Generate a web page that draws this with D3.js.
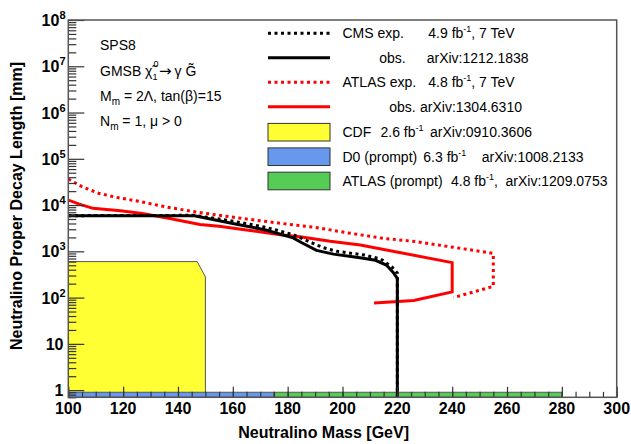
<!DOCTYPE html>
<html>
<head>
<meta charset="utf-8">
<script src="https://cdn.jsdelivr.net/npm/d3@7"></script>
<style>
  html, body { margin: 0; padding: 0; background: #fff; }
  svg { display: block; }
  text { font-family: "Liberation Sans", Arial, Helvetica, sans-serif; fill: #000; }
</style>
</head>
<body>
<svg id="chart" width="631" height="444"></svg>
<script>
// ---------------- data ----------------
const massTicks = [100, 120, 140, 160, 180, 200, 220, 240, 260, 280, 300];
const massTickLabels = ["100", "120", "140", "160", "180", "200", "220", "240", "260", "280", "300"];
const decayTicks = [1, 10, 1e2, 1e3, 1e4, 1e5, 1e6, 1e7, 1e8];
const decayTickLabels = ["1", "10", "10^2", "10^3", "10^4", "10^5", "10^6", "10^7", "10^8"];

// CMS expected (dotted black)
const cmsExpMass = [100, 146, 160, 172, 182, 188, 193, 198, 208, 214, 218, 220, 220];
const cmsExpLen  = [5900, 6000, 4500, 3300, 2300, 1600, 1200, 1000, 830, 680, 460, 340, 0.7];
// CMS observed (solid black)
const cmsObsMass = [100, 146, 160, 172, 182, 185, 190.5, 196.7, 207, 212, 216, 218.5, 220, 220];
const cmsObsLen  = [5900, 5900, 4000, 2900, 1950, 1550, 1050, 870, 720, 640, 505, 350, 260, 0.7];
// ATLAS expected (dotted red)
const atlasExpMass = [100, 105, 111, 118, 126, 136, 146, 155, 165, 178, 190, 202, 215, 227, 239, 251, 255, 255, 240.5];
const atlasExpLen  = [36500, 25000, 18000, 14500, 12000, 9000, 7200, 6000, 5000, 4000, 3300, 2500, 1900, 1620, 1260, 980, 900, 175, 100];
// ATLAS observed (solid red)
const atlasObsMass = [100, 104, 109, 119, 127, 137, 148, 155, 165, 178, 184.5, 195.5, 206.5, 240, 240, 226, 211.5];
const atlasObsLen  = [12800, 10500, 8500, 7500, 6600, 5150, 3800, 3500, 2900, 2250, 2060, 1650, 1370, 570, 133, 87, 76];
// CDF excluded region (yellow)
const cdfMass = [100, 100, 147, 150, 150];
const cdfLen  = [0.7, 600, 600, 280, 0.7];
// prompt exclusions (bands along the bottom)
const d0Mass = [100, 175];
const atlasPromptMass = [175, 280];
const promptLen = [0.7, 0.9];

// ---------------- layout ----------------
const svg = d3.select("#chart");
const pLeft = 68.3, pRight = 616.7, pTop = 20, pBottom = 397.3;
const x = d3.scaleLinear().domain([100, 300]).range([pLeft, pRight]);
const y = d3.scaleLog().domain([0.7, 1e8]).range([pBottom, pTop]);

const YELLOW = "#ffff33", BLUE = "#6699ee", GREEN = "#55cc55";

svg.append("defs").append("clipPath").attr("id", "clip")
  .append("rect").attr("x", pLeft).attr("y", pTop).attr("width", pRight - pLeft).attr("height", pBottom - pTop);

const plot = svg.append("g").attr("clip-path", "url(#clip)");

const line = d3.line().x(d => x(d[0])).y(d => y(d[1]));
const zip = (a, b) => a.map((v, i) => [v, b[i]]);

// CDF yellow polygon
plot.append("path")
  .attr("d", line(zip(cdfMass, cdfLen)) + "Z")
  .attr("fill", YELLOW).attr("stroke", "#555").attr("stroke-width", 1);

// prompt bands
[[d0Mass, BLUE], [atlasPromptMass, GREEN]].forEach(([m, c]) => {
  plot.append("rect")
    .attr("x", x(m[0])).attr("width", x(m[1]) - x(m[0]))
    .attr("y", y(promptLen[1])).attr("height", y(promptLen[0]) - y(promptLen[1]))
    .attr("fill", c).attr("stroke", "#555").attr("stroke-width", 1);
});

// curves
const DOT = "3,3.5";
const curves = [
  {m: atlasExpMass, v: atlasExpLen, c: "#ff0000", dash: DOT},
  {m: atlasObsMass, v: atlasObsLen, c: "#ff0000", dash: null},
  {m: cmsExpMass, v: cmsExpLen, c: "#000", dash: DOT},
  {m: cmsObsMass, v: cmsObsLen, c: "#000", dash: null},
];
curves.forEach(cv => {
  plot.append("path")
    .attr("d", line(zip(cv.m, cv.v)))
    .attr("fill", "none").attr("stroke", cv.c).attr("stroke-width", 3)
    .attr("stroke-dasharray", cv.dash);
});

// ---------------- axes ----------------
const TICK = "#333";
const xMinor = d3.range(100, 301, 5);
const gxMinor = svg.append("g").attr("transform", `translate(0,${pBottom})`)
  .call(d3.axisBottom(x).tickValues(xMinor).tickSize(-5.5).tickFormat(""));
const gxMajor = svg.append("g").attr("transform", `translate(0,${pBottom})`)
  .call(d3.axisBottom(x).tickValues(massTicks).tickSize(-10.5).tickFormat(""));
const yMinor = [];
for (let n = -1; n <= 7; n++) for (let k = 2; k <= 9; k++) {
  const v = k * Math.pow(10, n);
  if (v >= 0.7 && v <= 1e8) yMinor.push(v);
}
const gyMinor = svg.append("g").attr("transform", `translate(${pLeft},0)`)
  .call(d3.axisLeft(y).tickValues(yMinor).tickSize(-8).tickFormat(""));
const gyMajor = svg.append("g").attr("transform", `translate(${pLeft},0)`)
  .call(d3.axisLeft(y).tickValues(decayTicks).tickSize(-16).tickFormat(""));
[gxMinor, gxMajor, gyMinor, gyMajor].forEach(g => {
  g.select(".domain").remove();
  g.selectAll(".tick line").attr("stroke", TICK).attr("stroke-width", 1.2);
});

// frame
svg.append("rect")
  .attr("x", pLeft).attr("y", pTop).attr("width", pRight - pLeft).attr("height", pBottom - pTop)
  .attr("fill", "none").attr("stroke", "#555").attr("stroke-width", 1.5);

// x tick labels
svg.append("g").selectAll("text").data(massTicks).join("text")
  .attr("x", d => x(d)).attr("y", 413.5)
  .attr("text-anchor", "middle")
  .style("font-size", "16px").style("font-weight", "bold")
  .text((d, i) => massTickLabels[i]);

// y tick labels
decayTicks.forEach((v, i) => {
  const parts = decayTickLabels[i].split("^");
  const t = svg.append("text")
    .attr("y", y(v) + 6)
    .attr("text-anchor", "end")
    .style("font-size", "16px").style("font-weight", "bold");
  if (parts.length === 1) {
    t.attr("x", 63.5).text(parts[0]);
  } else {
    t.attr("x", 65.5);
    t.append("tspan").text(parts[0]);
    t.append("tspan").attr("dy", -7).style("font-size", "11px").text(parts[1]);
  }
});

// axis titles
svg.append("text")
  .attr("x", 238.3).attr("y", 437.5)
  .style("font-size", "16px").style("font-weight", "bold")
  .text("Neutralino Mass [GeV]");
svg.append("text")
  .attr("transform", "translate(22,62) rotate(-90)")
  .attr("text-anchor", "end")
  .style("font-size", "16px").style("font-weight", "bold")
  .text("Neutralino Proper Decay Length [mm]");

// ---------------- model text ----------------
const info = svg.append("g").style("font-size", "14px");
info.append("text").attr("x", 100).attr("y", 50).text("SPS8");
{
  const t = info.append("text").attr("x", 100).attr("y", 76);
  t.append("tspan").text("GMSB \u03C7\u0303");
  t.append("tspan").attr("dy", 4).style("font-size", "9px").text("1");
  t.append("tspan").attr("dx", -4).attr("dy", -13).style("font-size", "9px").text("0");
  t.append("tspan").attr("dy", 9).attr("dx", 0.5).style("font-family", "DejaVu Sans").style("font-size", "15px").text("\u2192");
  t.append("tspan").attr("dx", 3).text("\u03B3 G\u0303");
}
{
  const t = info.append("text").attr("x", 100).attr("y", 101);
  t.append("tspan").text("M");
  t.append("tspan").attr("dy", 4).style("font-size", "10px").text("m");
  t.append("tspan").attr("dy", -4).text(" = 2\u039B, tan(\u03B2)=15");
}
{
  const t = info.append("text").attr("x", 100).attr("y", 126);
  t.append("tspan").text("N");
  t.append("tspan").attr("dy", 4).style("font-size", "10px").text("m");
  t.append("tspan").attr("dy", -4).text(" = 1, \u03BC > 0");
}

// ---------------- legend ----------------
const lg = svg.append("g").style("font-size", "14px");
const sx0 = 268, sx1 = 330;
const rows = [33.3, 57.7, 82.3, 106.7, 132.2, 156.7, 181];
function sup(t, s) { t.append("tspan").attr("dy", -6).style("font-size", "9px").text(s); }
function lineSample(yy, c, dash) {
  lg.append("line").attr("x1", sx0).attr("x2", sx1).attr("y1", yy).attr("y2", yy)
    .attr("stroke", c).attr("stroke-width", 3).attr("stroke-dasharray", dash);
}
function boxSample(yy, c) {
  lg.append("rect").attr("x", sx0).attr("y", yy - 8.8).attr("width", sx1 - sx0).attr("height", 17.6)
    .attr("fill", c).attr("stroke", "#333").attr("stroke-width", 1);
}
function txt(xx, yy, s, anchor) {
  return lg.append("text").attr("x", xx).attr("y", yy + 5).attr("text-anchor", anchor || "start").text(s);
}
lineSample(rows[0], "#000", DOT);
txt(342.5, rows[0], "CMS exp.");
{ const t = txt(428.3, rows[0], "4.9 fb"); sup(t, "-1"); t.append("tspan").attr("dy", 6).text(", 7 TeV"); }
lineSample(rows[1], "#000", null);
txt(405.7, rows[1], "obs.", "end");
txt(426.7, rows[1], "arXiv:1212.1838");
lineSample(rows[2], "#ff0000", DOT);
txt(342.5, rows[2], "ATLAS exp.");
{ const t = txt(428.3, rows[2], "4.8 fb"); sup(t, "-1"); t.append("tspan").attr("dy", 6).text(", 7 TeV"); }
lineSample(rows[3], "#ff0000", null);
txt(415.7, rows[3], "obs.", "end");
txt(420, rows[3], "arXiv:1304.6310");
boxSample(rows[4], YELLOW);
txt(342.5, rows[4], "CDF");
{ const t = txt(380.5, rows[4], "2.6 fb"); sup(t, "-1"); }
txt(430, rows[4], "arXiv:0910.3606");
boxSample(rows[5], BLUE);
txt(342.5, rows[5], "D0 (prompt)");
{ const t = txt(423.3, rows[5], "6.3 fb"); sup(t, "-1"); }
txt(481.7, rows[5], "arXiv:1008.2133");
boxSample(rows[6], GREEN);
txt(342.5, rows[6], "ATLAS (prompt)");
{ const t = txt(451, rows[6], "4.8 fb"); sup(t, "-1"); t.append("tspan").attr("dy", 6).text(","); }
txt(505.5, rows[6], "arXiv:1209.0753");
</script>
</body>
</html>
